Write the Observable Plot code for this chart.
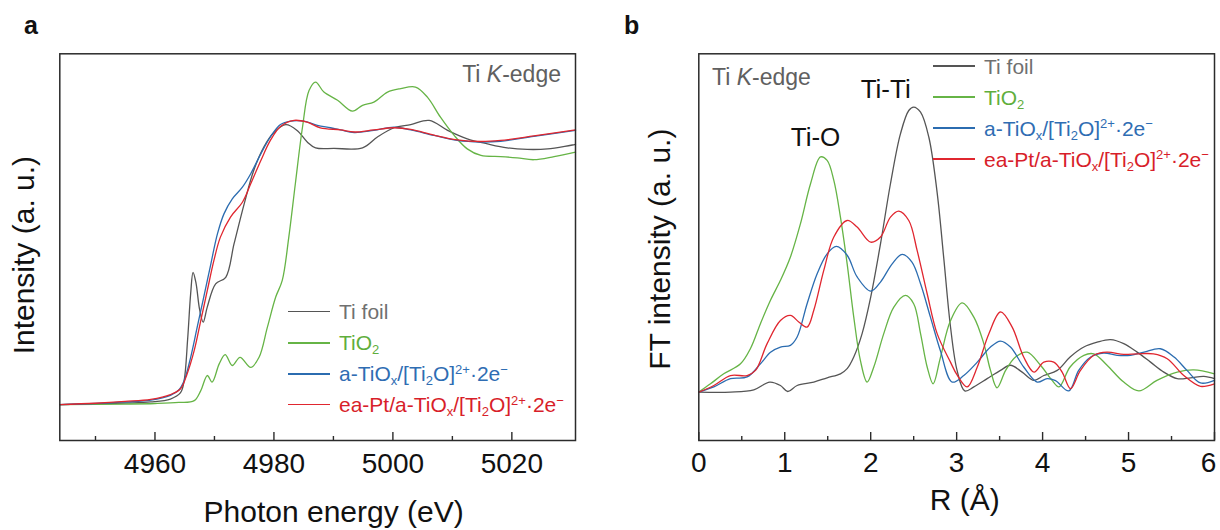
<!DOCTYPE html>
<html>
<head>
<meta charset="utf-8">
<script src="https://cdn.jsdelivr.net/npm/d3@7"></script>
<script src="https://cdn.jsdelivr.net/npm/@observablehq/plot@0.6"></script>
<style>
  body { margin: 0; background: #fff; }
  #wrap { position: relative; width: 1220px; height: 530px; overflow: hidden;
          font-family: "Liberation Sans", Arial, Helvetica, sans-serif; }
  .panel { position: absolute; top: 0; width: 610px; height: 530px; }
  .plabel { position: absolute; font-weight: bold; font-size: 25px; line-height: 1; color: #111; }
  .edge { position: absolute; font-size: 23px; line-height: 1; color: #606060; white-space: nowrap; }
  .legend { position: absolute; font-size: 21px; line-height: 1; white-space: nowrap; }
  .row { height: 31px; display: flex; align-items: center; }
  .ln { display: inline-block; width: 42px; margin-right: 9px; }
  sub, sup { font-size: 0.62em; line-height: 0; position: relative; vertical-align: baseline; }
  sub { top: 0.32em; }
  sup { top: -0.55em; }
</style>
</head>
<body>
<div id="wrap">
  <div id="pa" class="panel" style="left:0px"></div>
  <div id="pb" class="panel" style="left:610px"></div>
</div>
<script>
// ---------------- data ----------------
const seriesNames = ["Ti foil", "TiO2", "a-TiOx/[Ti2O]2+·2e−", "ea-Pt/a-TiOx/[Ti2O]2+·2e−"];
const seriesColors = ["#555555", "#66b446", "#2b6cb0", "#e0262f"];
const legendColors = ["#707070", "#5fae3c", "#2f6db3", "#d81e2a"];
const legendLabels = [
  "Ti foil",
  "TiO<sub>2</sub>",
  "a-TiO<sub>x</sub>/[Ti<sub>2</sub>O]<sup>2+</sup>·2e<sup>−</sup>",
  "ea-Pt/a-TiO<sub>x</sub>/[Ti<sub>2</sub>O]<sup>2+</sup>·2e<sup>−</sup>"
];

// Panel a: Ti K-edge XANES, [photon energy (eV), normalized intensity]
const xanesTiFoil = [[4944,0],[4950,0.003],[4955,0.006],[4959.3,0.01],[4962.6,0.021],[4964.3,0.045],[4964.9,0.09],
  [4965.5,0.25],[4966.0,0.42],[4966.4,0.5],[4966.9,0.46],[4967.5,0.36],[4968.1,0.312],[4968.8,0.37],[4970.2,0.457],
  [4971.9,0.482],[4973.3,0.609],[4975.0,0.76],[4976.6,0.886],[4978.3,0.975],[4980.0,1.03],[4982.0,1.06],[4983.9,1.038],
  [4985.6,0.994],[4987.0,0.972],[4990.1,0.97],[4994.9,0.972],[4997.4,1.013],[5000.2,1.048],[5003.0,1.06],[5006.1,1.076],
  [5009.2,1.038],[5012.5,1.006],[5015.9,0.987],[5019.2,0.972],[5022.6,0.966],[5026.0,0.968],[5030.7,0.985]];
const xanesTiO2 = [[4944,0],[4955,0.002],[4960,0.004],[4964,0.008],[4966.6,0.015],[4967.7,0.053],[4968.8,0.11],
  [4969.6,0.085],[4970.8,0.154],[4971.8,0.189],[4973.0,0.148],[4974.3,0.179],[4976.1,0.141],[4977.5,0.179],[4978.9,0.293],
  [4980.3,0.407],[4981.4,0.47],[4982.5,0.634],[4983.6,0.836],[4984.8,1.05],[4985.9,1.189],[4987.0,1.221],[4988.4,1.183],
  [4990.7,1.152],[4993.2,1.111],[4994.9,1.133],[4996.8,1.145],[4999.1,1.183],[5001.3,1.196],[5003.8,1.202],[5005.8,1.164],
  [5008.0,1.088],[5010.3,1.019],[5012.5,0.968],[5014.8,0.943],[5018.1,0.939],[5020.9,0.934],[5023.7,0.927],[5027.1,0.939],
  [5030.7,0.956]];
const xanesATiOx = [[4944,0],[4950,0.004],[4955,0.01],[4959.3,0.017],[4962.6,0.035],[4964.0,0.055],[4964.9,0.09],
  [4966.0,0.179],[4967.1,0.293],[4968.2,0.407],[4969.4,0.533],[4970.5,0.646],[4971.6,0.722],[4973.0,0.779],[4974.7,0.823],
  [4976.1,0.874],[4977.8,0.949],[4979.4,1.013],[4981.1,1.06],[4982.8,1.073],[4985.0,1.073],[4987.3,1.057],[4989.5,1.048],
  [4991.2,1.04],[4993.5,1.03],[4996.8,1.038],[5000.2,1.05],[5003.0,1.04],[5006.9,1.019],[5010.8,1.0],[5014.8,0.994],
  [5018.1,0.997],[5023.7,1.015],[5030.7,1.038]];
const xanesEaPt = [[4944,0],[4950,0.005],[4955,0.012],[4959.3,0.02],[4962.6,0.038],[4964.3,0.06],[4965.4,0.116],
  [4966.6,0.205],[4967.7,0.318],[4968.8,0.432],[4969.9,0.545],[4971.0,0.634],[4972.7,0.71],[4974.7,0.766],[4976.1,0.836],
  [4977.8,0.924],[4979.4,1.0],[4981.1,1.053],[4983.4,1.076],[4985.6,1.069],[4987.8,1.048],[4991.2,1.04],[4993.5,1.032],
  [4996.8,1.04],[5000.2,1.048],[5003.0,1.042],[5006.9,1.02],[5010.8,1.002],[5014.8,0.996],[5018.1,1.0],[5023.7,1.017],
  [5030.7,1.04]];

// Panel b: Fourier transform of EXAFS, [R (Å), FT intensity]
const ftTiFoil = [[0,0],[0.37,0],[0.64,0.008],[0.826,0.035],[0.95,0.023],[1.035,0.002],[1.144,0.023],[1.338,0.035],
  [1.493,0.05],[1.648,0.064],[1.726,0.082],[1.803,0.123],[1.9,0.205],[2.0,0.333],[2.114,0.52],[2.23,0.731],[2.346,0.906],
  [2.443,0.988],[2.5,1.0],[2.58,0.982],[2.676,0.895],[2.773,0.7],[2.85,0.47],[2.928,0.23],[3.005,0.076],[3.095,0.004],
  [3.2,0.018],[3.355,0.047],[3.51,0.076],[3.626,0.094],[3.762,0.07],[3.9,0.041],[4.014,0.058],[4.17,0.076],[4.32,0.123],
  [4.48,0.158],[4.635,0.175],[4.79,0.184],[4.944,0.17],[5.1,0.14],[5.256,0.105],[5.41,0.07],[5.566,0.047],[5.721,0.05],
  [5.876,0.055],[6.0,0.047]];
const ftTiO2 = [[0,0],[0.136,0.029],[0.29,0.064],[0.485,0.099],[0.6,0.152],[0.717,0.24],[0.834,0.322],[0.95,0.392],
  [1.066,0.474],[1.183,0.591],[1.3,0.731],[1.416,0.825],[1.493,0.813],[1.571,0.743],[1.648,0.614],[1.726,0.45],
  [1.803,0.263],[1.88,0.111],[1.958,0.035],[2.036,0.088],[2.152,0.205],[2.269,0.298],[2.404,0.339],[2.5,0.31],[2.58,0.205],
  [2.657,0.088],[2.726,0.029],[2.81,0.12],[2.928,0.25],[3.064,0.313],[3.2,0.263],[3.316,0.17],[3.394,0.076],[3.47,0.015],
  [3.57,0.076],[3.685,0.123],[3.82,0.14],[3.976,0.094],[4.11,0.041],[4.19,0.018],[4.32,0.088],[4.48,0.129],[4.596,0.134],
  [4.75,0.094],[4.944,0.035],[5.12,0.004],[5.33,0.041],[5.566,0.07],[5.76,0.078],[6.0,0.064]];
const ftATiOx = [[0,0],[0.175,0.018],[0.368,0.047],[0.562,0.053],[0.717,0.099],[0.834,0.14],[0.95,0.158],[1.066,0.164],
  [1.144,0.193],[1.26,0.31],[1.377,0.415],[1.493,0.485],[1.6,0.511],[1.726,0.48],[1.842,0.404],[2.0,0.354],[2.114,0.386],
  [2.25,0.45],[2.366,0.483],[2.48,0.456],[2.58,0.38],[2.695,0.263],[2.81,0.146],[2.948,0.035],[3.083,0.058],[3.24,0.105],
  [3.394,0.158],[3.51,0.179],[3.626,0.158],[3.78,0.088],[3.937,0.035],[4.053,0.047],[4.15,0.04],[4.305,0.004],[4.42,0.076],
  [4.56,0.123],[4.71,0.137],[4.867,0.129],[5.023,0.129],[5.18,0.14],[5.37,0.152],[5.53,0.123],[5.68,0.076],[5.837,0.032],
  [6.0,0.041]];
const ftEaPt = [[0,0],[0.175,0.023],[0.368,0.058],[0.562,0.058],[0.66,0.076],[0.795,0.17],[0.95,0.251],[1.066,0.269],
  [1.163,0.246],[1.26,0.228],[1.338,0.287],[1.454,0.427],[1.571,0.544],[1.726,0.602],[1.842,0.579],[2.0,0.526],[2.114,0.544],
  [2.23,0.614],[2.327,0.635],[2.443,0.602],[2.54,0.497],[2.657,0.345],[2.773,0.205],[2.928,0.105],[3.005,0.06],[3.122,0.018],
  [3.24,0.088],[3.375,0.205],[3.51,0.281],[3.646,0.228],[3.78,0.123],[3.9,0.07],[4.014,0.105],[4.13,0.105],[4.227,0.07],
  [4.325,0.012],[4.44,0.076],[4.596,0.129],[4.75,0.14],[4.944,0.132],[5.1,0.134],[5.29,0.134],[5.45,0.117],[5.643,0.058],
  [5.837,0.02],[6.0,0.029]];

const xanesMajorTicks = [4960, 4980, 5000, 5020];
const xanesMinorTicks = [4950, 4970, 4990, 5010];
const ftMajorTicks = [0, 1, 2, 3, 4, 5, 6];
const ftMinorTicks = [0.5, 1.5, 2.5, 3.5, 4.5, 5.5];

// ---------------- build ----------------
const FONT = '"Liberation Sans", Arial, Helvetica, sans-serif';
const toRows = (list) => list.flatMap((arr, i) => arr.map(([x, y]) => ({series: seriesNames[i], x, y})));
const xanesRows = toRows([xanesTiFoil, xanesTiO2, xanesATiOx, xanesEaPt]);
const ftRows = toRows([ftTiFoil, ftTiO2, ftATiOx, ftEaPt]);

const W = 610, H = 530, MT = 53.3, MB = 90;
const innerH = H - MT - MB;
const AX = "#2b2b2b";
const fmt = d3.format("d");

function tickMarks(major, minor) {
  return [
    Plot.ruleX(major, {x: d => d, insetTop: innerH - 8, stroke: AX, strokeWidth: 1.4}),
    Plot.ruleX(minor, {x: d => d, insetTop: innerH - 4, stroke: AX, strokeWidth: 1.4})
  ];
}

const plotA = Plot.plot({
  width: W, height: H, marginLeft: 59.3, marginRight: 35, marginTop: MT, marginBottom: MB,
  style: {fontFamily: FONT, background: "transparent", overflow: "visible", color: "#111"},
  x: {domain: [4944.0, 5030.7]},
  y: {domain: [-0.136, 1.328], axis: null},
  color: {domain: seriesNames, range: seriesColors},
  marks: [
    Plot.line(xanesRows, {x: "x", y: "y", z: "series", stroke: "series", strokeWidth: 1.3, curve: "catmull-rom"}),
    ...tickMarks(xanesMajorTicks, xanesMinorTicks),
    Plot.axisX({ticks: xanesMajorTicks, tickSize: 0, tickPadding: 13, fontSize: 28, label: null, tickFormat: fmt, fill: "#111"}),
    Plot.frame({stroke: AX, strokeWidth: 1.5}),
    Plot.text(["Intensity (a. u.)"], {text: d => d, frameAnchor: "left", textAnchor: "middle", lineAnchor: "middle",
      rotate: -90, dx: -35, dy: 8, fontSize: 30, fill: "#111"}),
    Plot.text(["Photon energy (eV)"], {text: d => d, frameAnchor: "bottom", textAnchor: "middle", lineAnchor: "top",
      dx: 16, dy: 60, fontSize: 30, fill: "#111"})
  ]
});
document.getElementById("pa").appendChild(plotA);

const peakTiO2 = d3.greatest(ftTiO2, d => d[1]);
const peakTiFoil = d3.greatest(ftTiFoil, d => d[1]);
const ftLastTick = ftMajorTicks.slice(-1);

const plotB = Plot.plot({
  width: W, height: H, marginLeft: 88.3, marginRight: 6, marginTop: MT, marginBottom: MB,
  style: {fontFamily: FONT, background: "transparent", overflow: "visible", color: "#111"},
  x: {domain: [0, 6]},
  y: {domain: [-0.17, 1.187], axis: null},
  color: {domain: seriesNames, range: seriesColors},
  marks: [
    Plot.line(ftRows, {x: "x", y: "y", z: "series", stroke: "series", strokeWidth: 1.3, curve: "catmull-rom"}),
    ...tickMarks(ftMajorTicks, ftMinorTicks),
    Plot.axisX({ticks: ftMajorTicks.slice(0, -1), tickSize: 0, tickPadding: 12, fontSize: 28, label: null, tickFormat: fmt, fill: "#111"}),
    Plot.axisX({ticks: ftLastTick, tickSize: 0, tickPadding: 12, fontSize: 28, label: null, tickFormat: fmt, fill: "#111", dx: -6}),
    Plot.frame({stroke: AX, strokeWidth: 1.5}),
    Plot.text([{label: "Ti-O", x: peakTiO2[0], y: peakTiO2[1]}], {x: "x", y: "y", text: "label", dx: -5, dy: -19,
      textAnchor: "middle", lineAnchor: "middle", fontSize: 26, fill: "#111"}),
    Plot.text([{label: "Ti-Ti", x: peakTiFoil[0], y: peakTiFoil[1]}], {x: "x", y: "y", text: "label", dx: -28, dy: -17,
      textAnchor: "middle", lineAnchor: "middle", fontSize: 26, fill: "#111"}),
    Plot.text(["FT intensity (a. u.)"], {text: d => d, frameAnchor: "left", textAnchor: "middle", lineAnchor: "middle",
      rotate: -90, dx: -38, dy: 2, fontSize: 30, fill: "#111"}),
    Plot.text(["R (Å)"], {text: d => d, frameAnchor: "bottom", textAnchor: "middle", lineAnchor: "top",
      dx: 8, dy: 48, fontSize: 30, fill: "#111"})
  ]
});
document.getElementById("pb").appendChild(plotB);

// ---------------- overlays: panel letters, edge labels, legends ----------------
const wrap = document.getElementById("wrap");
function addDiv(cls, style, html) {
  const d = document.createElement("div");
  d.className = cls; d.setAttribute("style", style); d.innerHTML = html;
  wrap.appendChild(d); return d;
}
addDiv("plabel", "left:24px;top:13px", "a");
addDiv("plabel", "left:624px;top:13px", "b");
addDiv("edge", "right:659px;top:63px", "Ti <i>K</i>-edge");
addDiv("edge", "left:712px;top:66px", "Ti <i>K</i>-edge");

function addLegend(left, top, widths) {
  const html = legendLabels.map((lab, i) =>
    `<div class="row"><span class="ln" style="height:${widths[i]}px;background:${seriesColors[i]}"></span>` +
    `<span style="color:${legendColors[i]}">${lab}</span></div>`).join("");
  addDiv("legend", `left:${left}px;top:${top}px`, html);
}
addLegend(288, 296, [1.5, 2, 2, 1.5]);
addLegend(933, 50.5, [1.2, 1.5, 2.2, 1.2]);
</script>
</body>
</html>
